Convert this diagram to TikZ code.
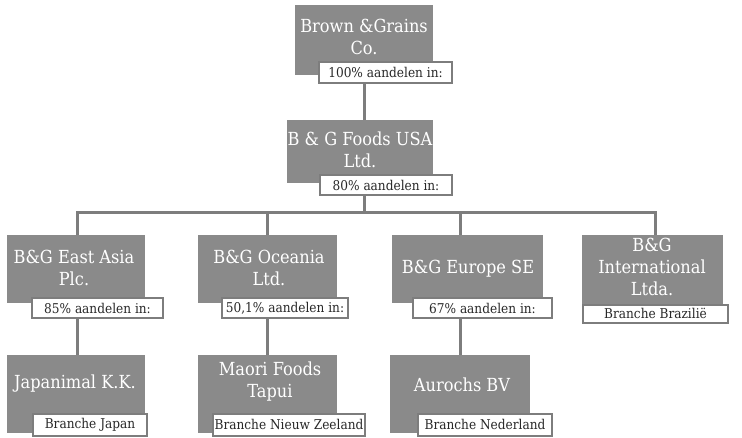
\documentclass[tikz,border=0pt]{standalone}
\usepackage{fontspec}
\setmainfont{DejaVu Serif Condensed}
\definecolor{boxgray}{RGB}{138,138,138}
\definecolor{linegray}{RGB}{125,125,125}
\definecolor{labtext}{RGB}{40,40,40}
\begin{document}
\begin{tikzpicture}[x=1pt,y=-1pt,
  gbox/.style={fill=boxgray, draw=none, inner sep=0pt, anchor=north west},
  gtext/.style={text=white, font=\fontsize{18}{22}\selectfont, align=center, inner sep=0pt},
  lbox/.style={fill=white, draw=linegray, line width=2pt, inner sep=0pt, text=labtext,
    font=\fontsize{13.5}{16}\selectfont},
  conn/.style={draw=linegray, line width=3pt}]
\useasboundingbox (0,0) rectangle (742,437);
% gray boxes
\node[gbox, minimum width=138pt, minimum height=70pt] (A) at (295,5) {};
\node[gbox, minimum width=146pt, minimum height=63pt] (B) at (287,120) {};
\node[gbox, minimum width=138pt, minimum height=68pt] (C) at (7,235) {};
\node[gbox, minimum width=139pt, minimum height=68pt] (D) at (198,235) {};
\node[gbox, minimum width=151pt, minimum height=68pt] (E) at (392,235) {};
\node[gbox, minimum width=141pt, minimum height=73pt] (F) at (582,235) {};
\node[gbox, minimum width=138pt, minimum height=78pt] (G) at (7,355) {};
\node[gbox, minimum width=139pt, minimum height=78pt] (H) at (198,355) {};
\node[gbox, minimum width=140pt, minimum height=78pt] (I) at (390,355) {};
% texts
\node[gtext] (At) at (364,37) {Brown \&Grains\\Co.};
\node[gtext] (Bt) at (360,150) {B \& G Foods USA\\Ltd.};
\node[gtext] (Ct) at (74,268) {B\&G East Asia\\Plc.};
\node[gtext] (Dt) at (269,268) {B\&G Oceania\\Ltd.};
\node[gtext] (Et) at (468,269) {B\&G Europe SE};
\node[gtext] (Ft) at (652,267) {B\&G\\International\\Ltda.};
\node[gtext] (Gt) at (75,384) {Japanimal K.K.};
\node[gtext] (Ht) at (270,382) {Maori Foods\\Tapui};
\node[gtext] (It) at (462,385) {Aurochs BV};
% labels
\node[lbox, minimum width=133pt, minimum height=21pt] (a) at (385.5,72.5) {100\% aandelen in:};
\node[lbox, minimum width=132pt, minimum height=20pt] (b) at (386,185) {80\% aandelen in:};
\node[lbox, minimum width=131pt, minimum height=20pt] (c) at (97.5,308) {85\% aandelen in:};
\node[lbox, minimum width=126pt, minimum height=20pt] (d) at (285,308) {50,1\% aandelen in:};
\node[lbox, minimum width=139pt, minimum height=20pt] (e) at (482.5,308) {67\% aandelen in:};
\node[lbox, minimum width=145pt, minimum height=18pt] (f) at (655.5,313.5) {Branche Brazilië};
\node[lbox, minimum width=114pt, minimum height=22pt] (g) at (90,424.5) {Branche Japan};
\node[lbox, minimum width=152pt, minimum height=22pt] (h) at (289,424.5) {Branche Nieuw Zeeland};
\node[lbox, minimum width=134pt, minimum height=22pt] (i) at (485,424.5) {Branche Nederland};
% connector x positions
\coordinate (xA) at (364,0);
\coordinate (xC) at (77,0);
\coordinate (xD) at (267,0);
\coordinate (xE) at (460,0);
\coordinate (xF) at (655,0);
\coordinate (bar) at (0,212);
\draw[conn] (a.south -| xA) -- (B.north -| xA);
\draw[conn] (b.south -| xA) -- (bar -| xA);
\draw[conn] (C.north -| xC) -- (bar -| xC) -- (bar -| xF) -- (F.north -| xF);
\draw[conn] (bar -| xD) -- (D.north -| xD);
\draw[conn] (bar -| xE) -- (E.north -| xE);
\draw[conn] (c.south -| xC) -- (G.north -| xC);
\draw[conn] (d.south -| xD) -- (H.north -| xD);
\draw[conn] (e.south -| xE) -- (I.north -| xE);
\end{tikzpicture}
\end{document}
